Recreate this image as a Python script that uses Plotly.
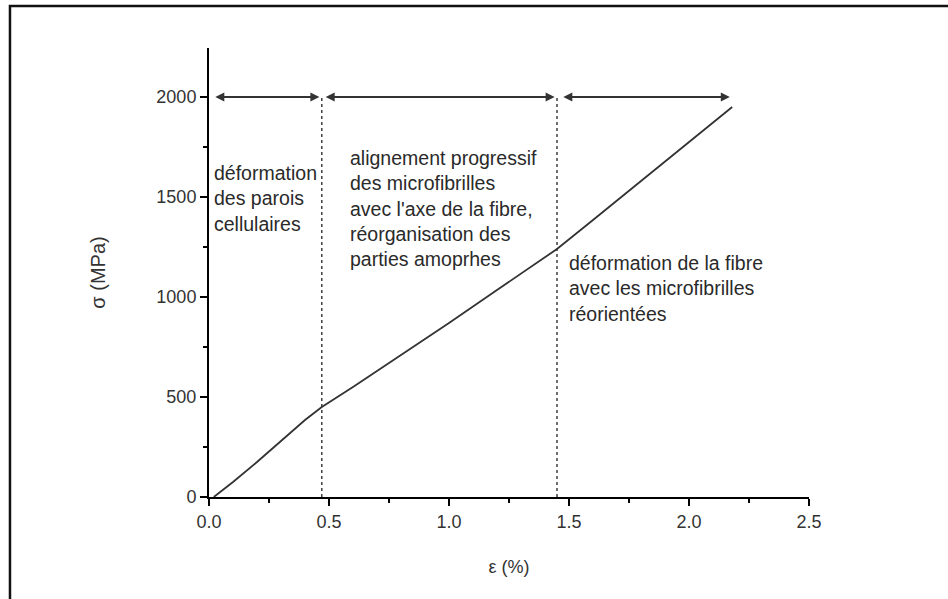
import plotly.graph_objects as go

strain = [0.02, 0.1, 0.2, 0.3, 0.4, 0.47, 0.6, 0.8, 1.0, 1.2, 1.45, 1.6, 1.8, 2.0, 2.18]
stress = [0, 75, 175, 280, 385, 450, 550, 710, 870, 1035, 1240, 1385, 1580, 1775, 1950]

boundaries = [0.47, 1.45]
arrow_spans = [(0.02, 0.46), (0.48, 1.44), (1.47, 2.17)]
arrow_level = 2000

labels = [
    (0.012, 1495, "déformation<br>des parois<br>cellulaires"),
    (0.58, 1445, "alignement progressif<br>des microfibrilles<br>avec l'axe de la fibre,<br>réorganisation des<br>parties amoprhes"),
    (1.49, 1045, "déformation de la fibre<br>avec les microfibrilles<br>réorientées"),
]

fig = go.Figure()
fig.add_trace(go.Scatter(x=strain, y=stress, mode="lines",
                         line=dict(color="#333333", width=1.8), showlegend=False))

for b in boundaries:
    fig.add_trace(go.Scatter(x=[b, b], y=[0, arrow_level], mode="lines",
                             line=dict(color="#333333", width=1.4, dash="dot"), showlegend=False))

anns = []
for x0, x1 in arrow_spans:
    anns.append(dict(x=x1, y=arrow_level, ax=x0, ay=arrow_level, xref="x", yref="y",
                     axref="x", ayref="y", showarrow=True, arrowhead=2, arrowside="end+start",
                     arrowsize=1, arrowwidth=1.8, arrowcolor="#333333", text=""))
for x, y, t in labels:
    anns.append(dict(x=x, y=y, xref="x", yref="y", text=t, showarrow=False,
                     xanchor="left", yanchor="middle", align="left",
                     font=dict(family="Liberation Sans, Arial", size=19.5, color="#2a2a2a")))

fig.update_layout(
    width=948, height=599,
    margin=dict(l=209, r=139, t=48, b=102),
    paper_bgcolor="white", plot_bgcolor="white",
    annotations=anns,
    font=dict(family="Liberation Sans, Arial", size=18, color="#333333"),
    shapes=[dict(type="rect", xref="paper", yref="paper",
                 x0=-0.3317, x1=1.35, y0=-0.35, y1=1.0935,
                 line=dict(color="#111111", width=2.5))],
)
fig.update_xaxes(range=[0, 2.5], tickvals=[0, 0.5, 1.0, 1.5, 2.0, 2.5],
                 ticktext=["0.0", "0.5", "1.0", "1.5", "2.0", "2.5"],
                 showline=True, linecolor="black", linewidth=2, mirror=False,
                 ticks="outside", ticklen=7, tickwidth=2, tickcolor="black",
                 minor=dict(tickvals=[0.25, 0.75, 1.25, 1.75, 2.25], ticks="outside", ticklen=4, tickwidth=2, tickcolor="black"),
                 showgrid=False, zeroline=False,
                 title=dict(text="ε (%)", font=dict(size=18), standoff=30))
fig.update_yaxes(range=[0, 2245], tickvals=[0, 500, 1000, 1500, 2000],
                 showline=True, linecolor="black", linewidth=2,
                 ticks="outside", ticklen=7, tickwidth=2, tickcolor="black",
                 minor=dict(tickvals=[250, 750, 1250, 1750, 2250], ticks="outside", ticklen=4, tickwidth=2, tickcolor="black"),
                 showgrid=False, zeroline=False,
                 title=dict(text="σ (MPa)", font=dict(size=20), standoff=45))

fig.write_html("out.html")
